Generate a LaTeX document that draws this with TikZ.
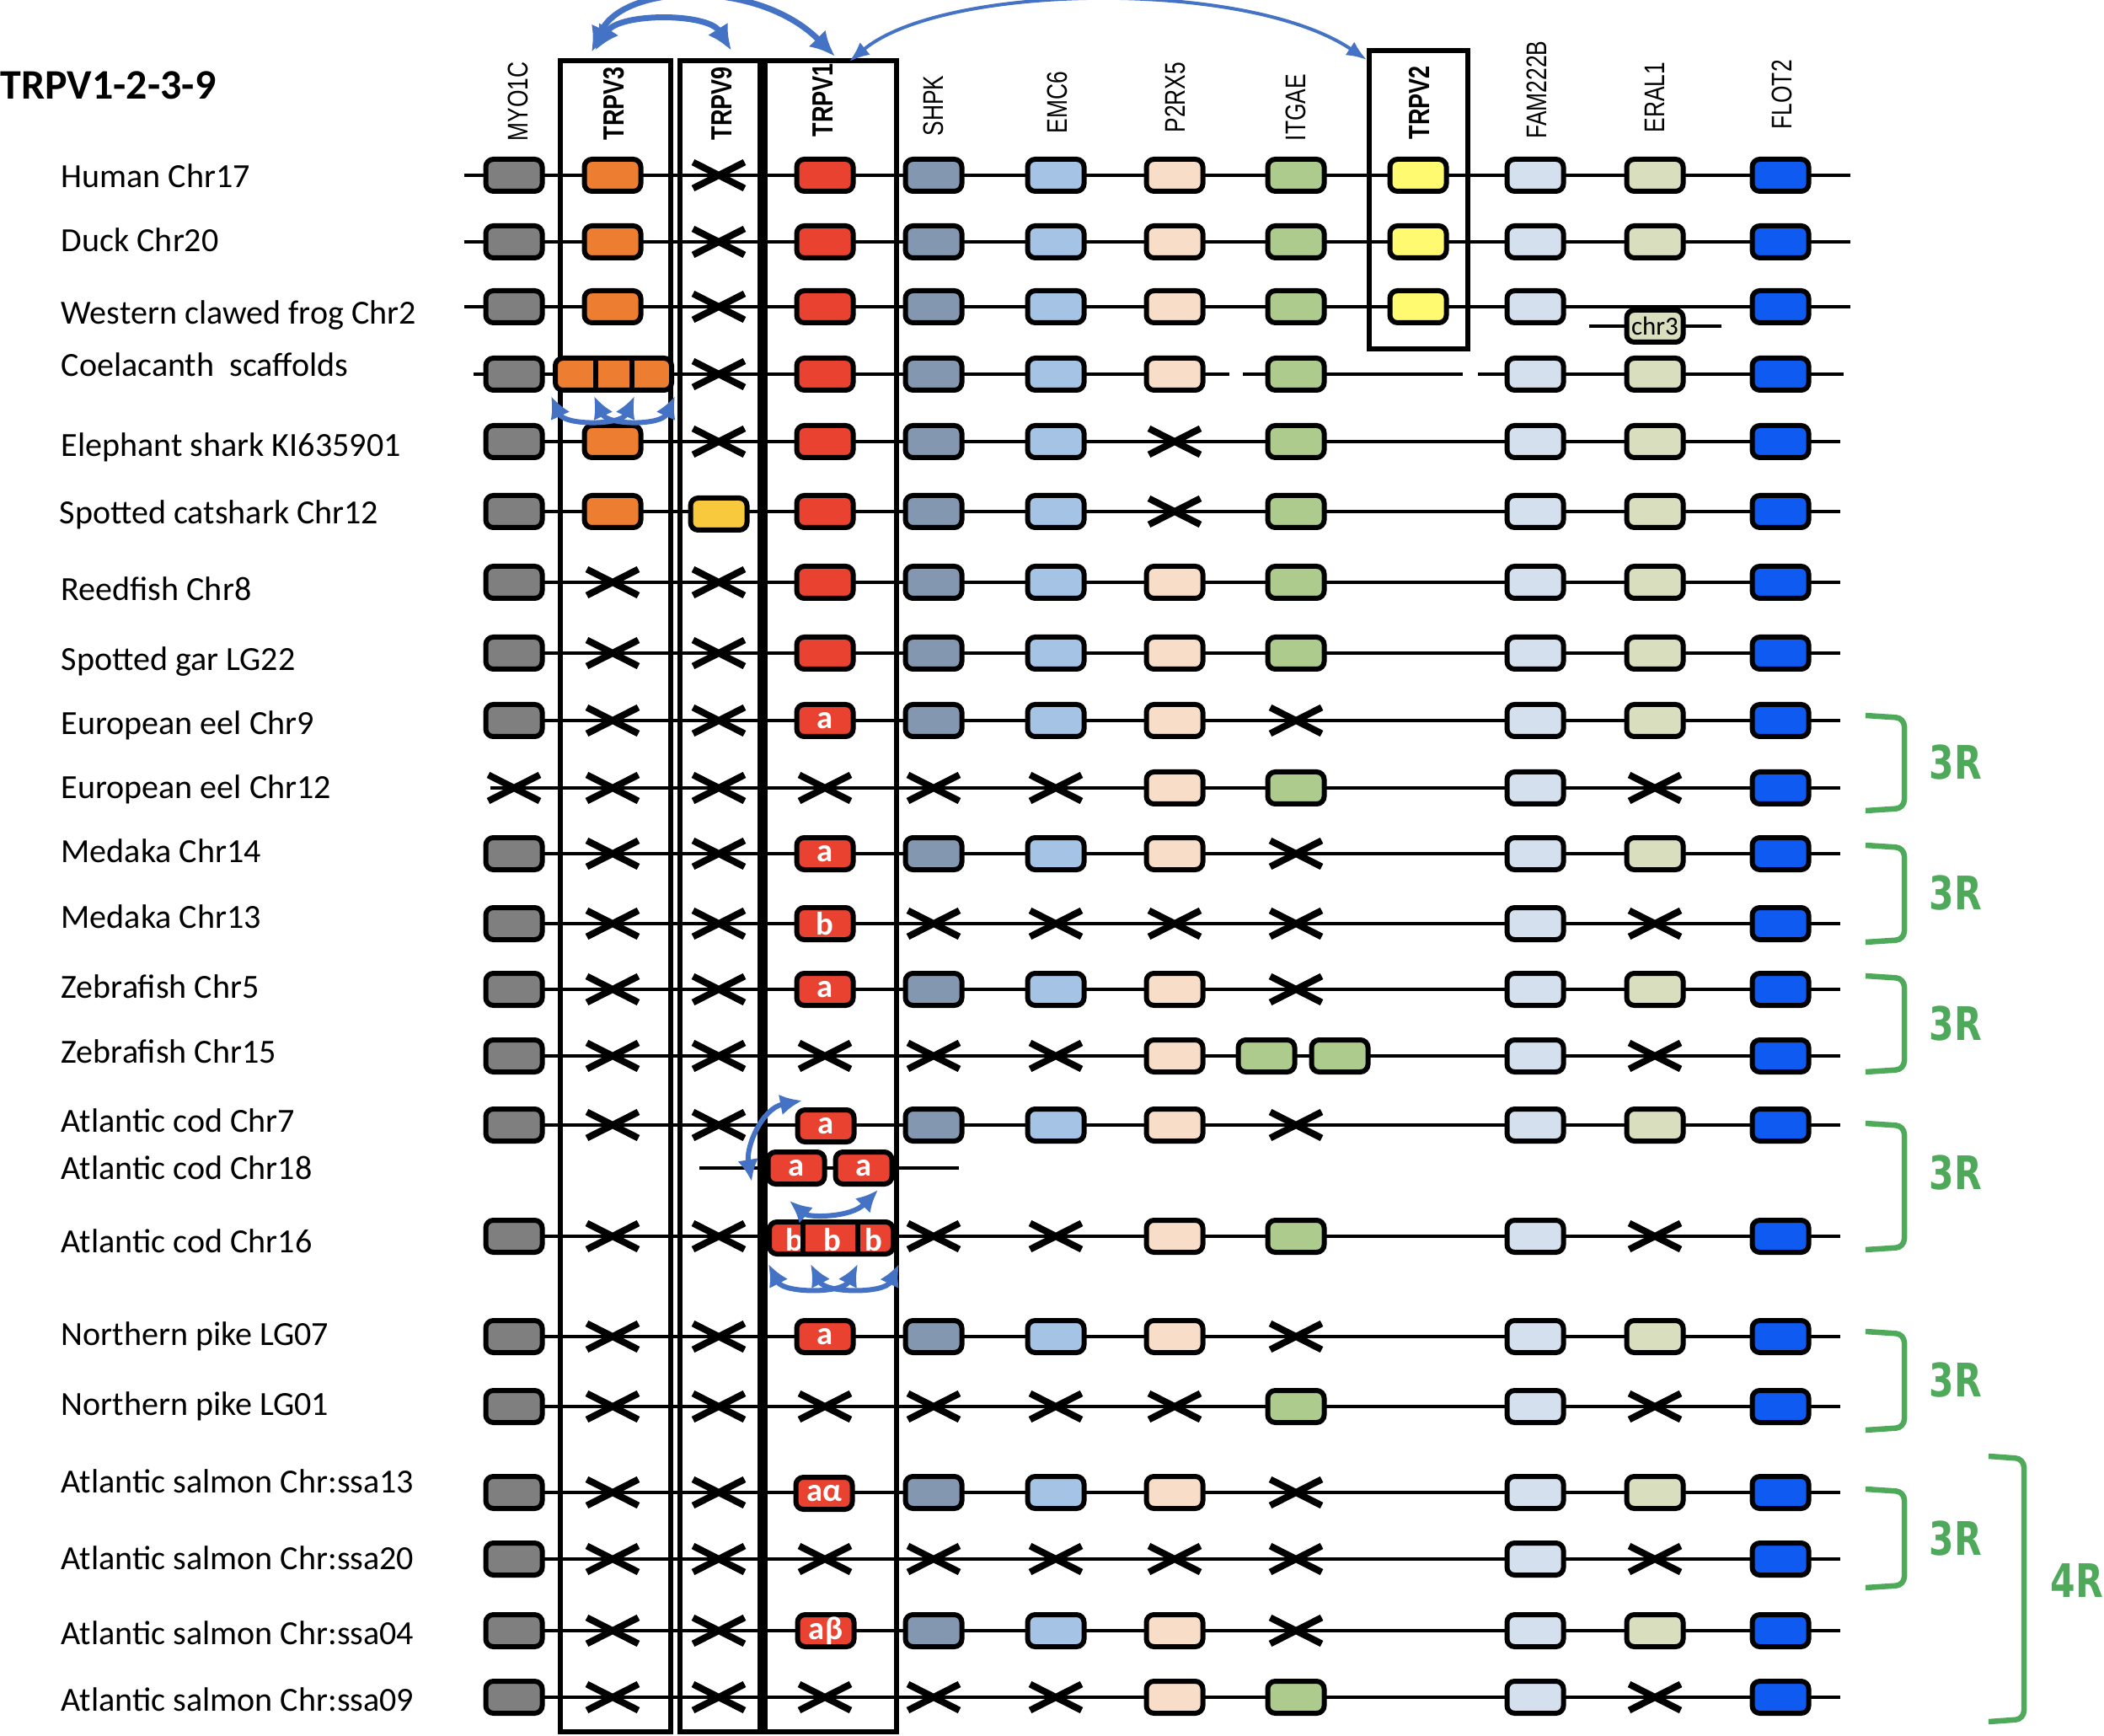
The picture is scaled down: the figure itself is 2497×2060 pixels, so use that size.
\documentclass[tikz,border=0pt]{standalone}
\usepackage{fontspec}
\setmainfont{Carlito}
\newfontfamily\arialfont{Liberation Sans}
\newfontfamily\dvfont{DejaVu Sans}
\usepackage{xcolor}
\usetikzlibrary{arrows.meta,shapes.misc}

\definecolor{c1}{HTML}{7F7F7F}
\definecolor{c2}{HTML}{ED7D31}
\definecolor{c3}{HTML}{F8C93C}
\definecolor{c4}{HTML}{E94230}
\definecolor{c5}{HTML}{8497B0}
\definecolor{c6}{HTML}{A4C3E5}
\definecolor{c7}{HTML}{F8DDC8}
\definecolor{c8}{HTML}{AECB8E}
\definecolor{c9}{HTML}{FFFA70}
\definecolor{c10}{HTML}{D5E0EF}
\definecolor{c11}{HTML}{D9DEBE}
\definecolor{c12}{HTML}{0F5BF2}
\definecolor{dupblue}{HTML}{4472C4}
\definecolor{wgdgreen}{HTML}{4FA95B}

% x of the twelve gene columns
\def\colx{{610,727,853,979,1108,1253,1394,1538,1683,1822,1964,2113}}
\newcommand\genes[3]{\foreach \c in {#3}{\pgfmathtruncatemacro\ii{\c-1}\pgfmathsetmacro\xx{\colx[\ii]}\node[gene,fill=c\c] (#1-\c) at (\xx,#2) {};}}
\newcommand\lost[3]{\foreach \c in {#3}{\pgfmathtruncatemacro\ii{\c-1}\pgfmathsetmacro\xx{\colx[\ii]}\node[lost] (#1-x\c) at (\xx,#2) {};}}
\newcommand\tall[1]{\scalebox{1}[1.28]{#1}}

\begin{document}
\begin{tikzpicture}[x=0.1mm,y=-0.1mm]
\tikzset{gene/.style={draw,line width=0.6mm,rounded corners=0.9mm,minimum width=6.7mm,minimum height=3.8mm,inner sep=0pt},
         redgene/.style={gene,fill=c4,text=white,font=\bfseries\fontsize{11pt}{11pt}\selectfont},
         lost/.style={cross out,draw,line width=0.8mm,minimum width=6.1mm,minimum height=3.1mm,inner sep=0pt,outer sep=0pt},
         chrom/.style={line width=0.35mm},
         colframe/.style={line width=0.6mm},
         divider/.style={line width=0.55mm},
         dupthick/.style={draw=dupblue,line width=0.7mm,{Latex[length=3mm,width=2.8mm]}-{Latex[length=3mm,width=2.8mm]}},
         dupthin/.style={draw=dupblue,line width=0.4mm,{Latex[length=2.4mm,width=1.9mm]}-{Latex[length=2.4mm,width=1.9mm]}},
         dupsmall/.style={draw=dupblue,line width=0.6mm,{Latex[length=2.6mm,width=2.5mm]}-{Latex[length=2.6mm,width=2.5mm]}},
         rowlab/.style={anchor=west,inner sep=0pt,font=\fontsize{11.4pt}{12pt}\selectfont,text height=7.34pt,text depth=0pt},
         collab/.style={rotate=90,anchor=west,inner sep=0pt,font=\arialfont\fontsize{7.5pt}{8pt}\selectfont},
         boldlab/.style={collab,font=\arialfont\bfseries\fontsize{7.7pt}{8pt}\selectfont},
         wgdbrace/.style={draw=wgdgreen,line width=0.65mm,rounded corners=1mm},
         wgdlab/.style={inner sep=0pt,text=wgdgreen,font=\dvfont\bfseries\fontsize{13pt}{13pt}\selectfont}}
\useasboundingbox (0,0) rectangle (2497,2060);

% chromosome lines
\foreach \y in {208,287,364} \draw[chrom] (551,\y) -- (2196,\y);
\draw[chrom] (562,444) -- (1459,444) (1475,444) -- (1736,444) (1754,444) -- (2188,444);
\foreach \y in {524,607,691,775,855,935,1013,1096,1174,1253,1335,1467,1586,1669,1771,1850,1935,2014}
  \draw[chrom] (582,\y) -- (2184,\y);
\draw[chrom] (1886,387) -- (2043,387);
\draw[chrom] (830,1386) -- (1138,1386);

% boxed columns
\draw[colframe] (665,72) rectangle (796,2055);
\draw[colframe] (807,72) rectangle (902,2055);
\draw[colframe] (908,72) rectangle (1064,2055);
\draw[colframe] (1625,60) rectangle (1742,414);

% gene rows
\genes{hum}{208}{1,2,4,5,6,7,8,9,10,11,12} \lost{hum}{208}{3}
\genes{duck}{287}{1,2,4,5,6,7,8,9,10,11,12} \lost{duck}{287}{3}
\genes{frog}{364}{1,2,4,5,6,7,8,9,10,12} \lost{frog}{364}{3}
\node[gene,fill=c11,font=\fontsize{8.8pt}{9pt}\selectfont] (frog-11) at (1964,387) {chr3};
\genes{coel}{444}{1,4,5,6,7,8,10,11,12} \lost{coel}{444}{3}
\node[gene,fill=c2,minimum width=13.8mm] (coel-2) at (728,444) {};
\draw[divider] (707,424) -- (707,464) (750,424) -- (750,464);
\genes{esh}{524}{1,2,4,5,6,8,10,11,12} \lost{esh}{524}{3,7}
\genes{cat}{607}{1,2,4,5,6,8,10,11,12} \lost{cat}{607}{7}
\node[gene,fill=c3] (cat-3) at (853,610) {};
\genes{reed}{691}{1,4,5,6,7,8,10,11,12} \lost{reed}{691}{2,3}
\genes{gar}{775}{1,4,5,6,7,8,10,11,12} \lost{gar}{775}{2,3}
\genes{eelA}{855}{1,5,6,7,10,11,12} \lost{eelA}{855}{2,3,8}
\node[redgene] (eelA-4) at (979,855) {a};
\genes{eelB}{935}{7,8,10,12} \lost{eelB}{935}{1,2,3,4,5,6,11}
\genes{medA}{1013}{1,5,6,7,10,11,12} \lost{medA}{1013}{2,3,8}
\node[redgene] (medA-4) at (979,1013) {a};
\genes{medB}{1096}{1,10,12} \lost{medB}{1096}{2,3,5,6,7,8,11}
\node[redgene] (medB-4) at (979,1096) {b};
\genes{zebA}{1174}{1,5,6,7,10,11,12} \lost{zebA}{1174}{2,3,8}
\node[redgene] (zebA-4) at (979,1174) {a};
\genes{zebB}{1253}{1,7,10,12} \lost{zebB}{1253}{2,3,4,5,6,11}
\node[gene,fill=c8] (zebB-8a) at (1503,1253) {};
\node[gene,fill=c8] (zebB-8b) at (1590,1253) {};
\genes{codA}{1335}{1,5,6,7,10,11,12} \lost{codA}{1335}{2,3,8}
\node[redgene] (codA-4) at (980,1336) {a};
\node[redgene] (codB-4a) at (945,1386) {a};
\node[redgene] (codB-4b) at (1025,1386) {a};
\genes{codC}{1467}{1,7,8,10,12} \lost{codC}{1467}{2,3,5,6,11}
\node[gene,fill=c4,minimum width=14.7mm] (codC-4) at (986.5,1469) {};
\foreach \x [count=\i] in {943,988,1037}
  \node[text=white,font=\bfseries\fontsize{11pt}{11pt}\selectfont,inner sep=0pt] (codC-b\i) at (\x,1471) {b};
\draw[divider] (953,1449) -- (953,1489) (1018,1449) -- (1018,1489);
\genes{pikA}{1586}{1,5,6,7,10,11,12} \lost{pikA}{1586}{2,3,8}
\node[redgene] (pikA-4) at (979,1586) {a};
\genes{pikB}{1669}{1,8,10,12} \lost{pikB}{1669}{2,3,4,5,6,7,11}
\genes{salA}{1771}{1,5,6,7,10,11,12} \lost{salA}{1771}{2,3,8}
\node[redgene] (salA-4) at (978,1772) {aα};
\genes{salB}{1850}{1,10,12} \lost{salB}{1850}{2,3,4,5,6,7,8,11}
\genes{salC}{1935}{1,5,6,7,10,11,12} \lost{salC}{1935}{2,3,8}
\node[redgene] (salC-4) at (980,1935) {aβ};
\genes{salD}{2014}{1,7,8,10,12} \lost{salD}{2014}{2,3,4,5,6,11}

% duplication arrows
\coordinate (v3a) at (702,62);  \coordinate (v1a) at (991,67);
\coordinate (v3b) at (706,60);  \coordinate (v9a) at (868,60);
\coordinate (v1b) at (1008,73); \coordinate (v2a) at (1622,71);
\draw[dupthick] (v3a) .. controls (740,-20) and (900,-25) .. (v1a);
\draw[dupthick] (v3b) .. controls (735,15) and (840,15) .. (v9a);
\draw[dupthin] (v1b) .. controls (1120,-20) and (1480,-25) .. (v2a);
\coordinate (ce1) at (654,470); \coordinate (ce2) at (705,470);
\coordinate (ce3) at (753,470); \coordinate (ce4) at (801,470);
\draw[dupsmall] (ce1) .. controls (670,505) and (737,505) .. (ce3);
\draw[dupsmall] (ce2) .. controls (721,505) and (785,505) .. (ce4);
\coordinate (cd1) at (952,1306); \coordinate (cd2) at (892,1402);
\draw[dupsmall] (cd1) .. controls (905,1315) and (885,1360) .. (cd2);
\coordinate (cd3) at (937,1425); \coordinate (cd4) at (1042,1412);
\draw[dupsmall] (cd3) .. controls (960,1445) and (1010,1445) .. (cd4);
\coordinate (cb1) at (912,1500); \coordinate (cb2) at (962,1500);
\coordinate (cb3) at (1018,1500); \coordinate (cb4) at (1067,1500);
\draw[dupsmall] (cb1) .. controls (930,1535) and (1000,1535) .. (cb3);
\draw[dupsmall] (cb2) .. controls (980,1535) and (1050,1535) .. (cb4);

% column and row labels
\node[anchor=west,inner sep=0pt,font=\bfseries\fontsize{14.2pt}{15pt}\selectfont,text height=9.15pt,text depth=0pt] (title) at (0,101) {TRPV1-2-3-9};
\foreach \x/\y/\t in {615/168/MYO1C,1108/162/SHPK,1255/159/EMC6,1395/158/P2RX5,1538/168/ITGAE,1824/165/FAM222B,1964/158/ERAL1,2115/154/FLOT2}
  \node[collab] (col-\t) at (\x,\y) {\tall{\t}};
\foreach \x/\y/\t in {729/167/TRPV3,857/167/TRPV9,977/163/TRPV1,1684/166/TRPV2}
  \node[boldlab] (col-\t) at (\x,\y) {\tall{\t}};
\foreach \x/\y/\t [count=\i] in {72/210/Human Chr17,72/286/Duck Chr20,72/372/Western clawed frog Chr2,
  72/434/Coelacanth\ \ scaffolds,72/529/Elephant shark KI635901,70/609/Spotted catshark Chr12,
  72/700/Reedfish Chr8,72/783/Spotted gar LG22,72/859/European eel Chr9,72/935/European eel Chr12,
  72/1011/Medaka Chr14,72/1089/Medaka Chr13,72/1172/Zebrafish Chr5,72/1249/Zebrafish Chr15,
  72/1331/Atlantic cod Chr7,72/1387/Atlantic cod Chr18,72/1474/Atlantic cod Chr16,
  72/1584/Northern pike LG07,72/1667/Northern pike LG01,72/1759/Atlantic salmon Chr:ssa13,
  72/1850/Atlantic salmon Chr:ssa20,72/1939/Atlantic salmon Chr:ssa04,72/2018/Atlantic salmon Chr:ssa09}
  \node[rowlab] (sp\i) at (\x,\y) {\t};

% whole genome duplications
\foreach \a/\b/\m [count=\i] in {849/962/905,1003/1118/1060,1158/1272/1215,1333/1483/1392,1580/1697/1638,1767/1884/1826}{
  \draw[wgdbrace] (2214,\a) -- (2260,\a+3) -- (2260,\b-3) -- (2214,\b);
  \node[wgdlab] (r3-\i) at (2321,\m) {\scalebox{0.93}[1.2]{3R}};
}
\draw[wgdbrace] (2360,1728) -- (2402,1731) -- (2402,2040) -- (2360,2043);
\node[wgdlab] (r4) at (2465,1876) {\scalebox{0.93}[1.2]{4R}};
\end{tikzpicture}
\end{document}
